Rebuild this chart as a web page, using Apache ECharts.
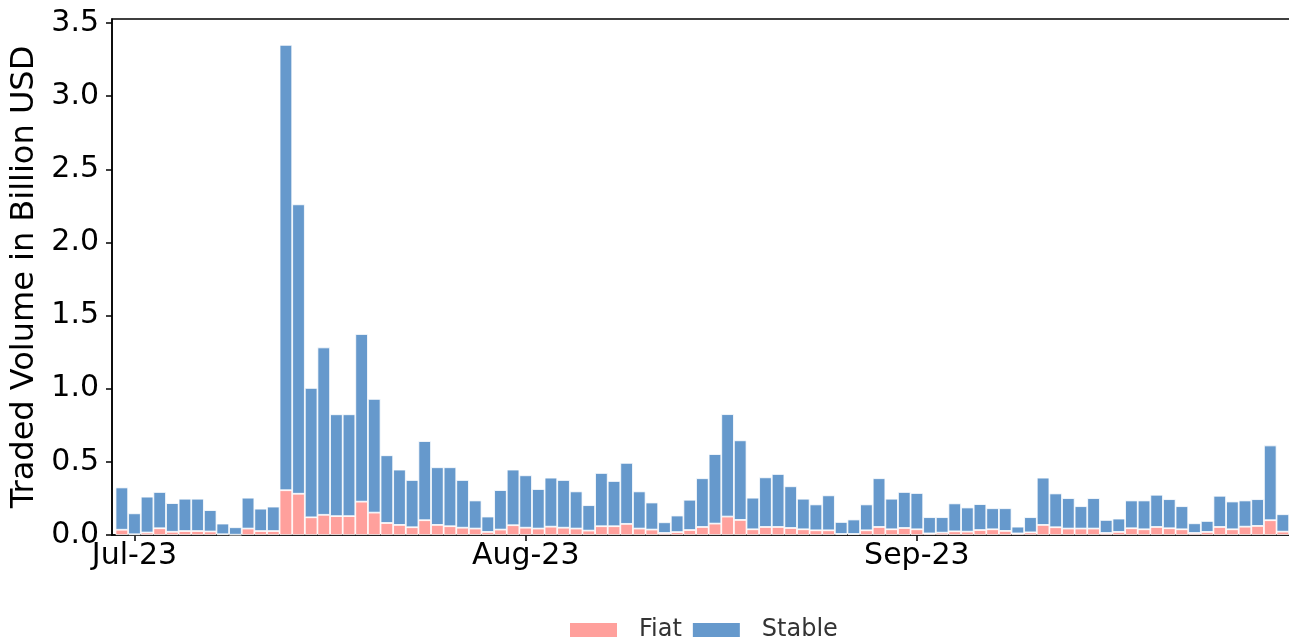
<!DOCTYPE html>
<html>
<head>
<meta charset="utf-8">
<script src="https://cdn.jsdelivr.net/npm/echarts@6/dist/echarts.min.js"></script>
<style>
  html, body { margin: 0; padding: 0; background: #fff; }
  #chart { width: 1289px; height: 640px; }
</style>
</head>
<body>
<div id="chart"></div>
<script>
// day index 0 = 30 Jun 2023 ... 92 = 30 Sep 2023
const fiat = [
  0.036, 0.005, 0.017, 0.046, 0.022, 0.027, 0.027, 0.024, 0.005, 0.002,
  0.044, 0.027, 0.027, 0.306, 0.282, 0.121, 0.138, 0.129, 0.129, 0.228,
  0.153, 0.082, 0.069, 0.053, 0.101, 0.069, 0.060, 0.050, 0.044, 0.021,
  0.037, 0.067, 0.050, 0.044, 0.057, 0.050, 0.044, 0.030, 0.060, 0.060,
  0.076, 0.044, 0.037, 0.014, 0.020, 0.034, 0.055, 0.078, 0.126, 0.103,
  0.039, 0.055, 0.055, 0.048, 0.039, 0.032, 0.032, 0.007, 0.007, 0.032,
  0.055, 0.039, 0.048, 0.039, 0.011, 0.016, 0.025, 0.023, 0.034, 0.039,
  0.028, 0.011, 0.018, 0.069, 0.053, 0.044, 0.044, 0.044, 0.014, 0.021,
  0.046, 0.039, 0.055, 0.046, 0.039, 0.014, 0.021, 0.055, 0.039, 0.057,
  0.062, 0.101, 0.023
];
const stable = [
  0.289, 0.143, 0.245, 0.248, 0.196, 0.221, 0.221, 0.146, 0.073, 0.051,
  0.211, 0.153, 0.167, 3.044, 1.978, 0.884, 1.144, 0.696, 0.696, 1.146,
  0.777, 0.463, 0.378, 0.323, 0.541, 0.394, 0.403, 0.326, 0.192, 0.105,
  0.270, 0.380, 0.358, 0.270, 0.335, 0.326, 0.254, 0.174, 0.364, 0.309,
  0.417, 0.254, 0.185, 0.073, 0.113, 0.207, 0.333, 0.475, 0.700, 0.544,
  0.216, 0.339, 0.362, 0.285, 0.209, 0.177, 0.239, 0.082, 0.099, 0.177,
  0.333, 0.209, 0.246, 0.248, 0.111, 0.106, 0.191, 0.165, 0.177, 0.144,
  0.155, 0.046, 0.104, 0.323, 0.231, 0.208, 0.153, 0.208, 0.089, 0.091,
  0.190, 0.197, 0.220, 0.199, 0.158, 0.066, 0.075, 0.213, 0.190, 0.179,
  0.183, 0.511, 0.119
];
const tickDays = [1, 32, 63];
const tickLabels = ['Jul-23', 'Aug-23', 'Sep-23'];
const yTicks = [0, 0.5, 1.0, 1.5, 2.0, 2.5, 3.0, 3.5];

const font = 'DejaVu Sans';
const chart = echarts.init(document.getElementById('chart'));

// value first so the stack sums the y values; x is the day index
const toData = arr => arr.map((v, i) => [v, i]);

chart.setOption({
  backgroundColor: '#fff',
  animation: false,
  grid: {
    left: 112,
    top: 19,
    width: 1186,
    height: 516,
    outerBoundsMode: 'none',
    containLabel: false,
    show: true,
    borderColor: '#000',
    borderWidth: 1.5
  },
  legend: {
    data: ['Fiat', 'Stable'],
    left: 568,
    top: 618,
    padding: 0,
    itemWidth: 49,
    itemHeight: 16,
    itemGap: 9,
    icon: 'rect',
    textStyle: { fontFamily: font, fontSize: 24, color: '#333', padding: [0, 0, 0, 16] }
  },
  xAxis: {
    type: 'value',
    min: -0.78,
    max: 93.2,
    splitLine: { show: false },
    axisLine: { onZero: false, lineStyle: { color: '#000', width: 1.5 } },
    axisTick: { show: true, customValues: tickDays, length: 6, lineStyle: { color: '#000', width: 1.5 } },
    axisLabel: {
      customValues: tickDays,
      formatter: v => tickLabels[tickDays.indexOf(v)] || '',
      fontFamily: font,
      fontSize: 30,
      color: '#000',
      margin: 6
    }
  },
  yAxis: {
    type: 'value',
    min: 0,
    max: 3.527,
    name: 'Traded Volume in Billion USD',
    nameLocation: 'middle',
    nameGap: 68,
    nameTextStyle: { fontFamily: font, fontSize: 32, color: '#000' },
    splitLine: { show: false },
    axisLine: { show: true, onZero: false, lineStyle: { color: '#000', width: 1.5 } },
    axisTick: { show: true, customValues: yTicks, length: 6, lineStyle: { color: '#000', width: 1.5 } },
    axisLabel: {
      customValues: yTicks,
      formatter: v => v.toFixed(1),
      fontFamily: font,
      fontSize: 30,
      color: '#000',
      margin: 13
    }
  },
  series: [
    {
      name: 'Fiat',
      type: 'bar',
      stack: 'vol',
      barWidth: 12.6,
      encode: { x: 1, y: 0 },
      itemStyle: { color: '#ffa09c', borderColor: '#fff', borderWidth: 0.8 },
      data: toData(fiat)
    },
    {
      name: 'Stable',
      type: 'bar',
      stack: 'vol',
      barWidth: 12.6,
      encode: { x: 1, y: 0 },
      itemStyle: { color: '#6699cc', borderColor: '#fff', borderWidth: 0.8 },
      data: toData(stable)
    }
  ]
});
</script>
</body>
</html>
